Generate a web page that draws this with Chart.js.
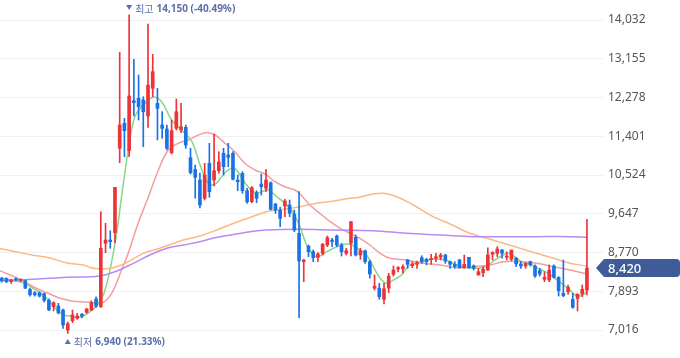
<!DOCTYPE html>
<html>
<head>
<meta charset="utf-8">
<script src="https://cdn.jsdelivr.net/npm/chart.js@4.4.1/dist/chart.umd.min.js"></script>
<style>
html, body { margin: 0; padding: 0; background: #fff; }
#wrap { width: 680px; height: 358px; }
</style>
</head>
<body>
<div id="wrap"><canvas id="stockChart" width="680" height="358"></canvas></div>
<script>
// daily candles, oldest -> newest
const opens = [
  8187, 8180, 8110, 8178, 8140, 8133, 7935, 7860, 7860, 7837,
  7687, 7544, 7560, 7469, 7017, 7227, 7281, 7372, 7417, 7469,
  7718, 7544, 8979, 9053, 9219, 11129, 11694, 11074, 12206, 12260,
  12222, 11860, 12486, 12147, 11656, 11565, 11029, 11581, 11543, 11604,
  10916, 10650, 10411, 9997, 10789, 10411, 10622, 11016, 10977, 11016,
  10411, 10563, 10169, 9920, 10124, 10320, 10223, 10350, 9868, 9732,
  9823, 9845, 9642, 9205, 8563, 8918, 8789, 8662, 8752, 8940,
  9053, 9144, 8940, 8752, 8979, 9114, 8714, 8811, 8563, 7964,
  7964, 7711, 7964, 8277, 8397, 8397, 8601, 8472, 8504, 8653,
  8617, 8617, 8640, 8662, 8714, 8563, 8504, 8601, 8427, 8662,
  8472, 8261, 8313, 8374, 8730, 8752, 8827, 8662, 8617, 8640,
  8511, 8465, 8563, 8465, 8359, 8164, 8148, 8465, 8209, 7847,
  7883, 7711, 7733, 7831, 7922
];
const highs = [
  8210, 8200, 8164, 8200, 8175, 8148, 7964, 7890, 7880, 7852,
  7724, 7657, 7620, 7492, 7198, 7469, 7394, 7394, 7508, 7680,
  7770, 9694, 9431, 9264, 10246, 13301, 11807, 14150, 13143, 12787,
  12296, 13941, 13256, 12486, 11957, 11656, 11769, 12244, 12147, 11656,
  11129, 10750, 10570, 10789, 11242, 11452, 11052, 11129, 11242, 11052,
  10524, 10600, 10223, 10260, 10169, 10547, 10653, 10370, 9884, 9793,
  9974, 9959, 9732, 10147, 8617, 8940, 8827, 8766, 8979, 9144,
  9091, 9167, 8979, 8866, 9468, 9167, 8866, 8827, 8601, 8261,
  8073, 8073, 8300, 8465, 8450, 8490, 8617, 8563, 8578, 8698,
  8640, 8730, 8752, 8752, 8730, 8578, 8563, 8617, 8714, 8662,
  8490, 8413, 8450, 8879, 8789, 8902, 8843, 8789, 8827, 8662,
  8563, 8540, 8578, 8490, 8413, 8336, 8490, 8490, 8223, 8601,
  8035, 7847, 7831, 8035, 9522
];
const lows = [
  8100, 8085, 8073, 8125, 8110, 7950, 7784, 7784, 7762, 7650,
  7454, 7447, 7379, 7055, 6940, 7182, 7258, 7288, 7394, 7454,
  7530, 7527, 8766, 8866, 8992, 10803, 10938, 10938, 11860, 11769,
  11165, 11604, 12296, 11317, 11355, 11090, 11000, 11543, 11481, 11129,
  10547, 10000, 9778, 9959, 10020, 10275, 10563, 10524, 10712, 10411,
  10169, 10110, 9884, 9897, 9897, 10072, 10147, 9732, 9658, 9354,
  9581, 9581, 9241, 7295, 8110, 8675, 8563, 8563, 8714, 8902,
  8902, 8902, 8691, 8714, 8691, 8691, 8617, 8526, 8187, 7922,
  7711, 7605, 7860, 8238, 8330, 8300, 8413, 8427, 8413, 8526,
  8490, 8504, 8563, 8601, 8526, 8413, 8413, 8413, 8413, 8413,
  8374, 8261, 8223, 8367, 8601, 8675, 8640, 8601, 8586, 8450,
  8413, 8413, 8465, 8208, 8238, 8110, 8110, 8187, 7784, 7770,
  7824, 7508, 7447, 7770, 7808
];
const closes = [
  8133, 8110, 8148, 8148, 8150, 7964, 7814, 7814, 7784, 7687,
  7469, 7635, 7408, 7130, 7160, 7356, 7333, 7333, 7492, 7635,
  7560, 8866, 9053, 9015, 10246, 11656, 11527, 12312, 12160, 12070,
  11957, 12561, 12862, 12034, 11581, 11129, 11527, 11957, 11618, 11203,
  10576, 10470, 9845, 10524, 10147, 10622, 10819, 10712, 10925, 10427,
  10373, 10169, 9920, 10237, 9997, 10260, 10411, 9748, 9732, 9544,
  9936, 9658, 9280, 8578, 8601, 8789, 8653, 8737, 8956, 9105,
  9015, 8940, 8789, 8811, 9468, 8714, 8811, 8563, 8284, 8009,
  7770, 7949, 8238, 8374, 8426, 8450, 8504, 8511, 8540, 8563,
  8563, 8640, 8677, 8714, 8578, 8504, 8450, 8427, 8504, 8427,
  8413, 8336, 8390, 8714, 8775, 8850, 8752, 8691, 8827, 8511,
  8465, 8526, 8490, 8238, 8284, 8209, 8374, 8209, 7906, 7793,
  7982, 7530, 7831, 7938, 8420
];

// moving averages: [candle index, price]
const ma5 = [
  [0, 8193], [1.8, 8148], [4.9, 8073], [6.7, 7960], [8.8, 7809], [10.2, 7658],
  [11.7, 7469], [13.1, 7356], [14.5, 7333], [15.9, 7304], [17.3, 7333], [18.7, 7431],
  [20.1, 7560], [21.9, 7922], [24, 8979], [25.4, 10033], [26.8, 11090], [28.2, 11844],
  [29.7, 12070], [32.1, 12283], [33.9, 12183], [36, 11769], [38.1, 11543], [40.3, 11278],
  [42.2, 10700], [43.8, 10336], [45.2, 10314], [46.6, 10486], [48, 10638], [49.3, 10676],
  [50.5, 10524], [51.9, 10298], [53.7, 10124], [55.1, 10147], [56.5, 10185], [58.3, 10033],
  [60, 9883], [61.4, 9732], [63.2, 9355], [64.6, 8940], [66, 8714], [67.1, 8676],
  [68.9, 8789], [71, 8902], [72.7, 8963], [74.2, 8940], [75.9, 8827], [77.3, 8714],
  [78.7, 8449], [80.2, 8187], [81.6, 8073], [83, 8148], [84.7, 8261], [86.1, 8449],
  [87.6, 8526], [89, 8563], [90.4, 8601], [91.8, 8624], [93.2, 8617], [94.6, 8578],
  [96, 8503], [97.5, 8449], [98.9, 8427], [100.3, 8413], [101.7, 8427], [103.1, 8488],
  [104.5, 8601], [105.9, 8692], [107.3, 8752], [108.7, 8676], [110.2, 8563], [111.6, 8526],
  [113, 8449], [114.4, 8374], [115.8, 8299], [117.2, 8186], [118.6, 8073], [120, 7960],
  [121.5, 7808], [122.5, 7786], [123.6, 7846], [124, 7922]
];
const ma20 = [
  [-0.4, 8359], [1.8, 8261], [3.9, 8164], [6, 8035], [8.1, 7922], [10.2, 7831],
  [12.4, 7734], [14.5, 7680], [16.6, 7658], [19.4, 7635], [21.2, 7621], [23.3, 7847],
  [25.4, 8374], [26.8, 8752], [28.9, 9431], [31.1, 10033], [33.2, 10638], [35.3, 11090],
  [37.4, 11242], [39.5, 11317], [43.1, 11482], [45.2, 11430], [47.3, 11242], [49.4, 11052],
  [51.5, 10789], [53.7, 10638], [55.8, 10547], [57.9, 10373], [60, 10260], [62.1, 10185],
  [63.2, 10094], [65.3, 9845], [67.4, 9658], [69.6, 9468], [71.7, 9318], [73.8, 9205],
  [75.9, 9092], [78, 8940], [80.2, 8752], [82.3, 8639], [85.8, 8601], [89.3, 8526],
  [92.9, 8488], [96.4, 8427], [99.9, 8450], [103.5, 8488], [106.3, 8563], [109.8, 8563],
  [113.3, 8526], [116.9, 8450], [120.4, 8374], [124, 8284]
];
const ma60 = [
  [-0.4, 8860], [3.2, 8783], [6.7, 8709], [10.2, 8648], [13.8, 8535], [17.3, 8488],
  [19.4, 8413], [22.9, 8413], [26.5, 8544], [30, 8752], [33.5, 8866], [38.5, 9053],
  [42, 9144], [45.6, 9280], [49, 9427], [52.6, 9563], [56.1, 9694], [59.7, 9748],
  [63.2, 9807], [66.7, 9884], [70.3, 9936], [73.8, 9997], [75.2, 10011], [78.7, 10094],
  [80.9, 10110], [83.7, 10033], [87.2, 9845], [91.4, 9581], [95, 9416], [99.2, 9205],
  [102.8, 9092], [106.3, 8979], [109.8, 8866], [113.3, 8752], [116.9, 8639], [120.4, 8526],
  [124, 8465]
];
const ma120 = [
  [-0.4, 8133], [6.7, 8164], [13.8, 8209], [20.8, 8239], [24.4, 8352], [27.9, 8526],
  [31.4, 8714], [35, 8866], [38.5, 8940], [42, 9015], [45.6, 9115], [49.1, 9178],
  [52.6, 9241], [56.1, 9280], [63.2, 9295], [70.3, 9280], [78.7, 9264], [85.8, 9205],
  [92.9, 9167], [99.9, 9129], [106.3, 9129], [113.3, 9129], [120.4, 9129], [124, 9114]
];

const yTicks = [7016, 7893, 8770, 9647, 10524, 11401, 12278, 13155, 14032];
const lastPrice = 8420;
const highMark = { index: 27, value: 14150, label: '최고', text: '14,150 (-40.49%)' };
const lowMark = { index: 14, value: 6940, label: '최저', text: '6,940 (21.33%)' };

const UP = '#ee3338';
const DOWN = '#1a73e6';
const candleColors = closes.map((c, i) => c >= opens[i] ? UP : DOWN);

function maLine(points, color) {
  return {
    type: 'line',
    data: points.map(p => ({ x: p[0], y: p[1] })),
    borderColor: color,
    borderWidth: 1.5,
    pointRadius: 0,
    tension: 0.4,
    fill: false,
    order: 5
  };
}

// price tag + high/low marks
const overlay = {
  id: 'overlay',
  afterDraw(chart) {
    const ctx = chart.ctx;
    const x = chart.scales.x, y = chart.scales.y;

    // current price tag
    const py = Math.round(y.getPixelForValue(lastPrice));
    ctx.save();
    ctx.fillStyle = '#3f5c98';
    ctx.beginPath();
    ctx.moveTo(596, py);
    ctx.lineTo(604, py - 9);
    ctx.lineTo(676, py - 9);
    ctx.quadraticCurveTo(680, py - 9, 680, py - 5);
    ctx.lineTo(680, py + 5);
    ctx.quadraticCurveTo(680, py + 9, 676, py + 9);
    ctx.lineTo(604, py + 9);
    ctx.closePath();
    ctx.fill();
    ctx.fillStyle = '#fff';
    ctx.font = '500 13px "Noto Sans"';
    ctx.textBaseline = 'middle';
    ctx.fillText(lastPrice.toLocaleString('en-US'), 608, py + 1);

    // high / low marks
    const marks = [[highMark, 9, true], [lowMark, 342, false]];
    marks.forEach(([m, ty, down]) => {
      const mx = x.getPixelForValue(m.index);
      ctx.fillStyle = '#5b6fa8';
      ctx.beginPath();
      if (down) {
        ctx.moveTo(mx - 3, ty - 4); ctx.lineTo(mx + 3, ty - 4); ctx.lineTo(mx, ty + 1);
      } else {
        ctx.moveTo(mx - 3, ty + 2); ctx.lineTo(mx + 3, ty + 2); ctx.lineTo(mx, ty - 3);
      }
      ctx.closePath();
      ctx.fill();
      ctx.textBaseline = 'middle';
      ctx.font = '10px "Noto Sans CJK KR"';
      ctx.fillText(m.label, mx + 6, ty);
      const w = ctx.measureText(m.label).width;
      ctx.font = 'bold 10px "Noto Sans"';
      ctx.fillText(m.text, mx + 9 + w, ty);
    });
    ctx.restore();
  }
};

const ctx = document.getElementById('stockChart').getContext('2d');
new Chart(ctx, {
  type: 'bar',
  data: {
    datasets: [
      {
        data: highs.map((h, i) => ({ x: i, y: [lows[i], h] })),
        backgroundColor: candleColors,
        barThickness: 1,
        grouped: false,
        order: 1
      },
      {
        data: opens.map((o, i) => ({ x: i, y: [o, closes[i]] })),
        backgroundColor: candleColors,
        barThickness: 3,
        minBarLength: 1,
        grouped: false,
        order: 0
      },
      maLine(ma120, '#b98af2'),
      maLine(ma60, '#fbb985'),
      maLine(ma20, '#f59c9c'),
      maLine(ma5, '#86d886')
    ]
  },
  options: {
    responsive: false,
    animation: false,
    devicePixelRatio: 1,
    layout: { padding: 0 },
    plugins: { legend: { display: false }, tooltip: { enabled: false } },
    scales: {
      x: {
        type: 'linear',
        display: false,
        offset: false,
        min: -0.36,
        max: 127.4
      },
      y: {
        position: 'right',
        min: 6383,
        max: 14485,
        afterBuildTicks: s => { s.ticks = yTicks.map(v => ({ value: v })); },
        afterFit: s => { s.width = 77; s.paddingTop = 0; s.paddingBottom = 0; },
        border: { display: false },
        grid: { color: '#eef0f4', drawTicks: false },
        ticks: {
          padding: 5,
          color: '#555',
          autoSkip: false,
          font: { family: 'Noto Sans', size: 12 },
          callback: v => v.toLocaleString('en-US')
        }
      }
    }
  },
  plugins: [overlay]
});
</script>
</body>
</html>
